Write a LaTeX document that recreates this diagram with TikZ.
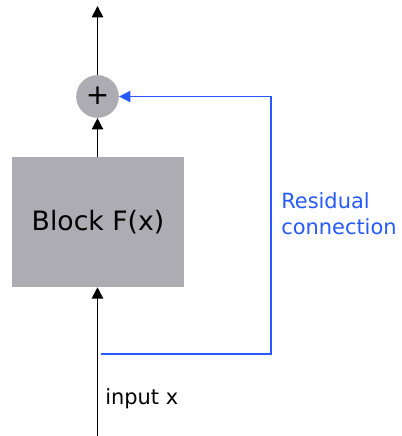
\documentclass[tikz,border=0pt]{standalone}
\usepackage{fontspec}
\setmainfont{DejaVu Sans}
\usetikzlibrary{arrows.meta}
\definecolor{boxgray}{RGB}{173,172,179}
\definecolor{resblue}{RGB}{38,90,255}
\tikzset{
  blockbox/.style={draw=none, fill=boxgray, minimum width=129pt, minimum height=97.5pt, inner sep=0pt, font=\fontsize{20}{24}\selectfont},
  sumnode/.style={circle, fill=boxgray, minimum size=32pt, inner sep=0pt, font=\fontsize{21}{24}\selectfont},
  flow/.style={line width=1.2pt, -{Triangle[width=8.5pt,length=8.5pt]}},
  resid/.style={resblue, line width=1.2pt, -{Triangle[width=8.5pt,length=8.5pt]}},
  lbl/.style={font=\fontsize{15.7}{19.5}\selectfont, inner sep=0pt, anchor=west, align=left}
}
\begin{document}
\begin{tikzpicture}[x=0.75pt,y=-0.75pt]
\useasboundingbox (0,0) rectangle (402,436);
\node[blockbox] (block) at (98,222) {Block F(x)};
\node[sumnode] (sum) at (97.5,96.5) {\raisebox{1pt}{+}};
\coordinate (top) at (97.5,6);
\coordinate (bottom) at (97.5,437);
\coordinate (rstart) at (101,354);
\coordinate (rc1) at (271,354);
\coordinate (rc2) at (271,96.5);
\draw[flow] (sum.north) -- (top);
\draw[flow] (block.north -| sum) -- (sum.south);
\draw[flow] (bottom) -- (block.south -| bottom);
\draw[resid] (rstart) -- (rc1) -- (rc2) -- (sum.east);
\node[lbl] (inp) at (105,399) {input x};
\node[lbl, text=resblue] (res) at (281,214) {Residual\\connection};
\end{tikzpicture}
\end{document}
